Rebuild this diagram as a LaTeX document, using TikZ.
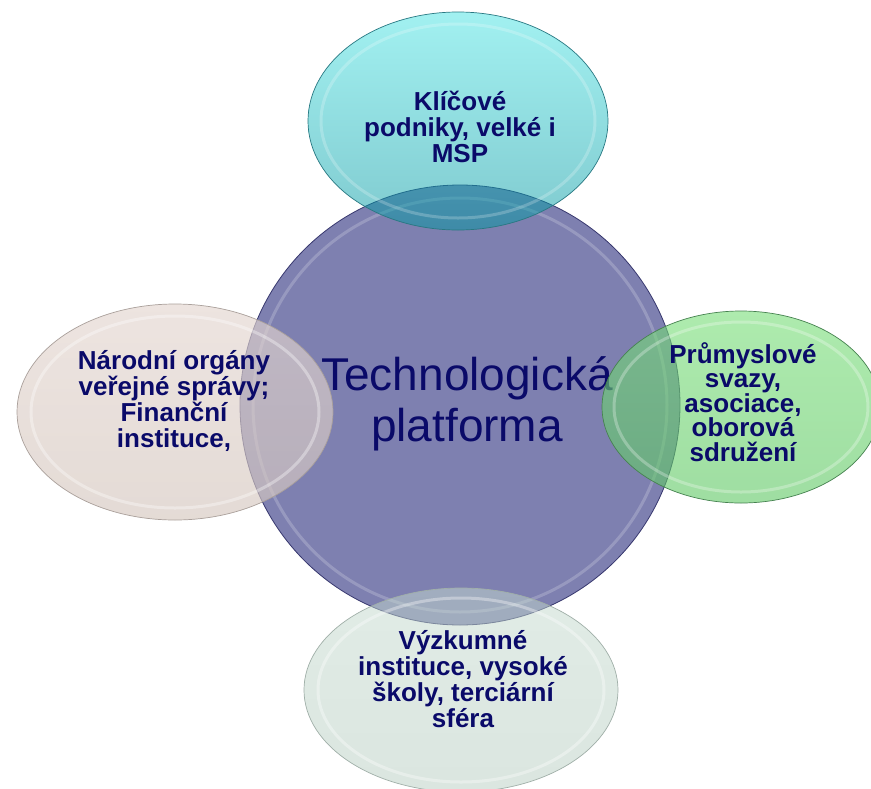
\documentclass[tikz,border=0pt]{standalone}
\usepackage{fontspec}
\setmainfont{Liberation Sans}
\usetikzlibrary{shapes.geometric}

\definecolor{navy}{RGB}{10,10,105}
\definecolor{hubfill}{RGB}{126,128,176}
\definecolor{hubline}{RGB}{55,55,110}
\definecolor{tealtop}{RGB}{70,228,228}
\definecolor{tealbot}{RGB}{0,150,160}
\definecolor{tealline}{RGB}{40,120,130}
\definecolor{beigetop}{RGB}{228,214,208}
\definecolor{beigebot}{RGB}{214,200,192}
\definecolor{beigeline}{RGB}{170,160,155}
\definecolor{greentop}{RGB}{120,222,120}
\definecolor{greenbot}{RGB}{95,200,100}
\definecolor{greenline}{RGB}{70,130,80}
\definecolor{greytop}{RGB}{196,218,206}
\definecolor{greybot}{RGB}{184,206,194}
\definecolor{greyline}{RGB}{160,175,168}

\tikzset{
  bubble/.style={ellipse, inner sep=0pt, line width=0.7pt},
  ringline/.style={draw=white, line width=3pt, draw opacity=0.22},
  labeltext/.style={text=navy, align=center, inner sep=0pt,
    font=\fontsize{26}{26}\selectfont\bfseries},
}

\begin{document}
\begin{tikzpicture}[x=1pt,y=-1pt]
\useasboundingbox (0,0) rectangle (871,788);
\fill[white] (0,0) rectangle (871,788);

% hub
\node[circle, inner sep=0pt, minimum size=440, fill=hubfill, draw=hubline, line width=0.8pt] (hub) at (460,405) {};
\draw[ringline, draw opacity=0.2] (hub.center) circle [radius=207];
\node[text=navy, align=center, inner sep=0pt, font=\fontsize{46}{51}\selectfont] (hubtext) at (467,404) {Technologická\\platforma};

% top
\node[bubble, minimum width=300, minimum height=218, top color=tealtop, bottom color=tealbot, draw=tealline, fill opacity=0.5] (topE) at (458,121) {};
\draw[ringline] (topE.center) ellipse [x radius=137, y radius=97];
% left
\node[bubble, minimum width=316, minimum height=216, top color=beigetop, bottom color=beigebot, draw=beigeline, fill opacity=0.65] (leftE) at (175,412) {};
\draw[ringline, draw opacity=0.35] (leftE.center) ellipse [x radius=144, y radius=96];
% right
\node[bubble, minimum width=278, minimum height=192, top color=greentop, bottom color=greenbot, draw=greenline, fill opacity=0.6] (rightE) at (741,407) {};
\draw[ringline, draw opacity=0.28] (rightE.center) ellipse [x radius=127, y radius=85];
% bottom
\node[bubble, minimum width=314, minimum height=204, top color=greytop, bottom color=greybot, draw=greyline, fill opacity=0.5] (botE) at (461,690) {};
\draw[ringline, draw opacity=0.35] (botE.center) ellipse [x radius=143, y radius=92];

% texts
\node[labeltext] (topT) at (460,127) {Klíčové\\podniky, velké i\\MSP};
\node[labeltext] (leftT) at (174,401) {Národní orgány\\veřejné správy;\\Finanční\\instituce,};
\node[labeltext, font=\fontsize{26}{24.5}\selectfont\bfseries] (rightT) at (743,402) {Průmyslové\\svazy,\\asociace,\\oborová\\sdružení};
\node[labeltext] (botT) at (463,679) {Výzkumné\\instituce, vysoké\\školy, terciární\\sféra};
\end{tikzpicture}
\end{document}
